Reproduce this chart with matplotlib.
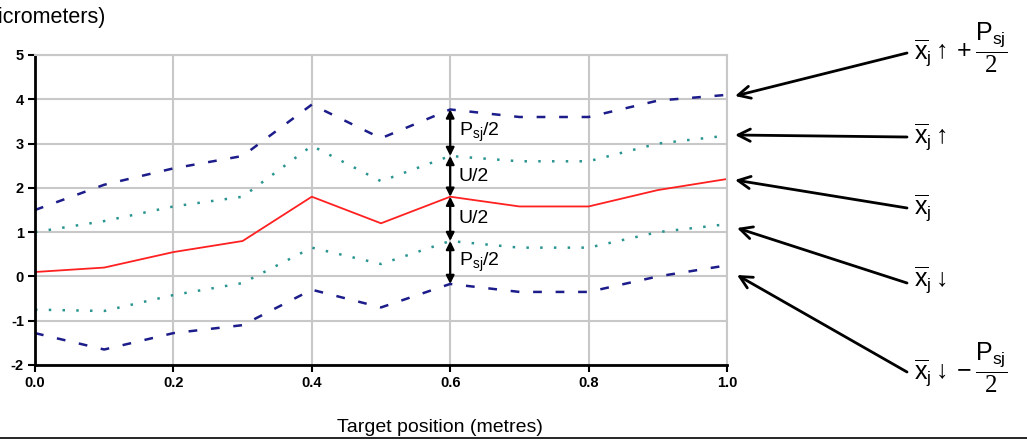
import numpy as np
import matplotlib
matplotlib.use("Agg")
import matplotlib.pyplot as plt

plt.rcParams["font.family"] = ["Liberation Sans", "DejaVu Sans"]
plt.rcParams["axes.unicode_minus"] = False
plt.rcParams["mathtext.fontset"] = "custom"
plt.rcParams["mathtext.rm"] = "Liberation Sans"
plt.rcParams["mathtext.it"] = "Liberation Sans:italic"
plt.rcParams["mathtext.cal"] = "Liberation Serif"

# target positions (m) and deviations (micrometers)
position = [0.0, 0.1, 0.2, 0.3, 0.4, 0.5, 0.6, 0.7, 0.8, 0.9, 1.0]
mean_dev = [0.10, 0.20, 0.55, 0.80, 1.80, 1.20, 1.80, 1.58, 1.58, 1.95, 2.20]
up_dev = [1.00, 1.25, 1.58, 1.80, 2.95, 2.15, 2.72, 2.60, 2.60, 3.00, 3.18]
down_dev = [-0.75, -0.78, -0.42, -0.15, 0.65, 0.28, 0.80, 0.65, 0.65, 1.00, 1.18]
up_plus_p = [1.50, 2.07, 2.44, 2.72, 3.88, 3.12, 3.77, 3.60, 3.60, 3.97, 4.10]
down_minus_p = [-1.28, -1.65, -1.28, -1.10, -0.30, -0.70, -0.17, -0.35, -0.35, 0.00, 0.25]

x_ticks = [0.0, 0.2, 0.4, 0.6, 0.8, 1.0]
y_ticks = [-2, -1, 0, 1, 2, 3, 4, 5]

# dimension chain drawn at this position
dim_index = 6
dim_labels = [r"P$_{\mathrm{sj}}$/2", "U/2", "U/2", r"P$_{\mathrm{sj}}$/2"]

fig = plt.figure(figsize=(10.27, 4.43), dpi=100)
ax = fig.add_axes([35 / 1027, 1 - 365 / 443, 692 / 1027, 310 / 443])

navy = "#1c1c8a"
teal = "#2a9590"
ax.plot(position, up_plus_p, color=navy, lw=1.8, linestyle=(0, (3.5, 5.5)))
ax.plot(position, down_minus_p, color=navy, lw=1.8, linestyle=(0, (3.5, 5.5)))
ax.plot(position, up_dev, color=teal, lw=1.8, linestyle=(0, (1, 4.5)))
ax.plot(position, down_dev, color=teal, lw=1.8, linestyle=(0, (1, 4.5)))
ax.plot(position, mean_dev, color="#ff2020", lw=1.3)

ax.set_xlim(0, 1.0)
ax.set_ylim(-2, 5)
ax.set_xticks(x_ticks)
ax.set_xticklabels([f"{t:.1f}" for t in x_ticks])
ax.set_yticks(y_ticks)
ax.grid(True, color="#c8c8c8", lw=1.5)
ax.set_axisbelow(True)
for side in ["top", "right"]:
    ax.spines[side].set_color("#c8c8c8")
    ax.spines[side].set_linewidth(1.5)
for side in ["left", "bottom"]:
    ax.spines[side].set_linewidth(2)
ax.tick_params(direction="out", length=5, width=1.5, labelsize=10.5, pad=3)
for lbl in ax.get_xticklabels() + ax.get_yticklabels():
    lbl.set_fontweight("bold")

# stacked dimension arrows between the curves at one position
xd = position[dim_index]
levels = [up_plus_p[dim_index], up_dev[dim_index], mean_dev[dim_index],
          down_dev[dim_index], down_minus_p[dim_index]]
for top, bottom, label in zip(levels[:-1], levels[1:], dim_labels):
    ax.annotate("", xy=(xd, top), xytext=(xd, bottom),
                arrowprops=dict(arrowstyle="<|-|>", color="black", lw=1.6,
                                mutation_scale=12, shrinkA=0, shrinkB=0))
    ax.text(xd + 0.012, (top + bottom) / 2, label, fontsize=14,
            ha="left", va="center")

# axis titles
fig.text(106 / 1027, 1 - 18 / 443, "(micrometers)", fontsize=15.5,
         ha="right", va="center")
fig.text(440 / 1027, 1 - 428 / 443, "Target position (metres)", fontsize=14,
         ha="center", va="center")
fig.add_artist(plt.Line2D([0, 1], [1 - 438 / 443] * 2, color="black", lw=1.2,
                          transform=fig.transFigure))

# labels for each curve on the right
xbar = r"\overline{\mathrm{x}}_{\mathrm{j}}"
frac = r"\dfrac{\mathrm{P}_{\mathrm{sj}}}{\mathcal{2}}"
curve_labels = [
    (rf"${xbar}\uparrow + {frac}$", (907, 53), (735, 96), 48),
    (rf"${xbar}\uparrow$", (907, 137), (735, 135), 137),
    (rf"${xbar}$", (907, 208), (735, 180), 208),
    (rf"${xbar}\downarrow$", (907, 283), (737, 228), 280),
    (rf"${xbar}\downarrow - {frac}$", (907, 372), (737, 275), 368),
]
for text, start, tip, ty in curve_labels:
    ax.annotate("", xy=(tip[0], 443 - tip[1]), xytext=(start[0], 443 - start[1]),
                xycoords="figure pixels", textcoords="figure pixels",
                arrowprops=dict(arrowstyle="->", color="black", lw=2,
                                mutation_scale=22, shrinkA=0, shrinkB=0),
                annotation_clip=False)
    fig.text(914 / 1027, 1 - ty / 443, text, fontsize=18, ha="left",
             va="center")

fig.savefig("out.png", dpi=100)
